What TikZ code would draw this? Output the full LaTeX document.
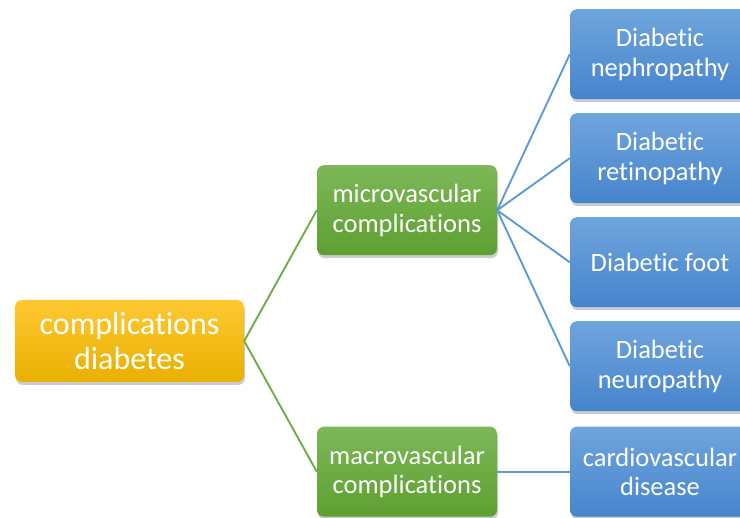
\documentclass[tikz,border=0pt]{standalone}
\usepackage{fontspec}
\setmainfont[Ligatures=NoCommon]{Carlito}
\usetikzlibrary{shadows}

\definecolor{rootTop}{HTML}{FFC832}
\definecolor{rootBot}{HTML}{E8B000}
\definecolor{greenTop}{HTML}{7DB858}
\definecolor{greenBot}{HTML}{5E9F31}
\definecolor{blueTop}{HTML}{6FA5DD}
\definecolor{blueBot}{HTML}{4684CC}
\definecolor{greenLine}{HTML}{70AD47}
\definecolor{blueLine}{HTML}{5B9BD5}

\tikzset{
  box/.style = {shape=rectangle, rounded corners=7pt, align=center,
    text=white, inner sep=0pt, minimum width=180pt, minimum height=90pt,
    drop shadow={shadow xshift=1pt, shadow yshift=-3pt, opacity=0.4},
    font=\fontsize{26.5}{29.5}\selectfont},
  rootbox/.style = {box, minimum width=229pt, minimum height=82pt,
    top color=rootTop, bottom color=rootBot,
    font=\fontsize{32}{34.5}\selectfont},
  groupbox/.style = {box, top color=greenTop, bottom color=greenBot},
  leafbox/.style = {box, top color=blueTop, bottom color=blueBot}
}

\begin{document}
\begin{tikzpicture}[grow'=right,
  edge from parent path={(\tikzparentnode.east) -- (\tikzchildnode.west)}]
    \tikzstyle{level 1}=[level distance=277.5pt, sibling distance=261.5pt,
      edge from parent/.style={draw=greenLine, line width=1.9pt}]
    \tikzstyle{level 2}=[level distance=253pt, sibling distance=104pt,
      edge from parent/.style={draw=blueLine, line width=1.9pt}]
  \useasboundingbox (-129.5pt,-177pt) rectangle (610.5pt,341pt);
  \node [rootbox] (root) {complications\\diabetes}
    child { node [groupbox] (micro) {microvascular\\complications}
      child { node [leafbox] (nephro) {Diabetic\\nephropathy} }
      child { node [leafbox] (retino) {Diabetic\\retinopathy} }
      child { node [leafbox] (foot) {Diabetic foot} }
      child { node [leafbox] (neuro) {Diabetic\\neuropathy} } }
    child { node [groupbox] (macro) {macrovascular\\complications}
      child { node [leafbox] (cardio) {cardiovascular\\disease} } } ;
\end{tikzpicture}
\end{document}
